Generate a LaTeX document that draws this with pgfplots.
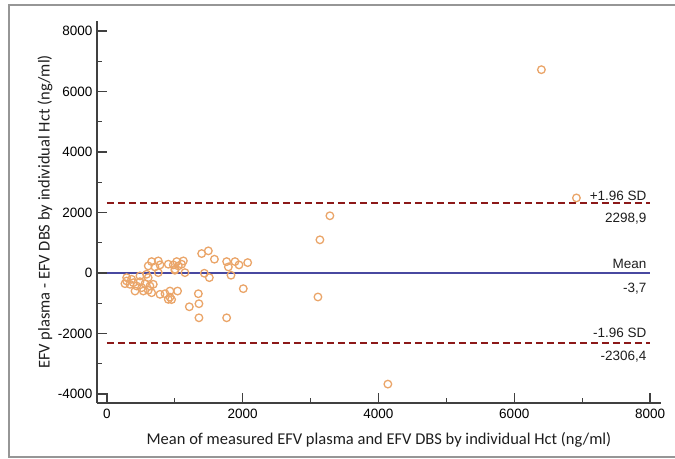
\documentclass[border=0pt]{standalone}
\usepackage{pgfplots}
\pgfplotsset{compat=1.18}
\usepackage{fontspec}
\setmainfont{Liberation Sans}
\newfontfamily\calibri{Carlito}
\definecolor{axisgray}{RGB}{64,64,64}
\definecolor{ptorange}{RGB}{234,165,105}
\definecolor{meanblue}{RGB}{72,72,160}
\definecolor{sdred}{RGB}{140,25,25}
\definecolor{framegray}{RGB}{150,150,150}
\definecolor{labeltext}{RGB}{30,30,30}
\begin{document}
\begin{tikzpicture}
\useasboundingbox (-97bp,-56bp) rectangle (578bp,403bp);
\draw[framegray, line width=1.2bp] (580bp,-54bp) -- (-88bp,-54bp) -- (-88bp,398bp) -- (580bp,398bp);
\begin{axis}[
  at={(0,0)}, anchor=south west,
  scale only axis,
  width=564bp, height=382bp,
  xmin=-147, xmax=8162,
  ymin=-4300, ymax=8330,
  axis x line=bottom, axis y line=left,
  axis line style={-, axisgray, line width=1.5bp},
  xtick={0,2000,4000,6000,8000},
  ytick={-4000,-2000,0,2000,4000,6000,8000},
  minor x tick num=1, minor y tick num=1,
  tick align=inside,
  major tick length=10bp, minor tick length=5bp,
  every tick/.style={axisgray, line width=1.2bp},
  /pgf/number format/assume math mode=true,
  /pgf/number format/set thousands separator={},
  scaled ticks=false,
  ticklabel style={font=\fontsize{13.5bp}{15bp}\selectfont, text=black},
  yticklabel style={xshift=-1bp},
  xticklabel style={yshift=-3bp},
  xlabel={Mean of measured EFV plasma and EFV DBS by individual Hct (ng/ml)},
  ylabel={EFV plasma - EFV DBS by individual Hct (ng/ml)},
  every axis x label/.style={at={(axis description cs:0.5,0)}, yshift=-37bp, anchor=center,
     font=\calibri\fontsize{16.5bp}{18bp}\selectfont, text=labeltext},
  every axis y label/.style={at={(axis description cs:0,0.5)}, xshift=-52bp, rotate=90, anchor=center,
     font=\calibri\fontsize{16.5bp}{18bp}\selectfont, text=labeltext},
  clip=false,
]
\addplot[only marks, mark=o, mark size=3.8bp, mark options={ptorange, line width=1.3bp}] coordinates {
(6400,6720) (6916,2480) (3284,1890) (3137,1095) (3108,-795) (4138,-3675)
(1395,641) (1493,730) (1583,454) (1763,375) (1788,199) (1886,375) (1945,266) (2073,342)
(1827,-76) (1434,-10) (1508,-155) (2008,-520) (1346,-687) (1355,-1018) (1213,-1118)
(1355,-1483) (1763,-1483) (1040,-598) (952,-880) (928,-800)
(1100,289) (1125,398) (1051,232) (1149,10)
(658,375) (756,398) (608,232) (707,199) (781,266) (756,10) (903,289) (977,266) (1027,375) (1002,123)
(290,-266) (265,-355) (339,-375) (388,-322) (486,-289) (560,-355) (437,-432) (511,-488)
(413,-598) (535,-598) (633,-432) (682,-375) (608,-574) (658,-654) (781,-707) (855,-687)
(928,-598) (903,-873)
(290,-155) (363,-210) (607,-155) (486,-99) (583,-43) (1001,89)
};
\addplot[meanblue, line width=2bp] coordinates {(0,-3.7) (8000,-3.7)};
\addplot[sdred, line width=2bp, dash pattern=on 7bp off 4bp] coordinates {(0,2298.9) (8000,2298.9)};
\addplot[sdred, line width=2bp, dash pattern=on 7bp off 4bp] coordinates {(0,-2306.4) (8000,-2306.4)};
\begin{scope}[every node/.style={font=\fontsize{13.5bp}{15bp}\selectfont, anchor=base east, inner sep=0pt, text=labeltext}]
\node[yshift=3bp] at (axis cs:7950,2298.9) {+1.96 SD};
\node[yshift=-19bp] at (axis cs:7950,2298.9) {2298,9};
\node[yshift=5bp] at (axis cs:7950,-3.7) {Mean};
\node[yshift=-19bp] at (axis cs:7950,-3.7) {-3,7};
\node[yshift=5bp] at (axis cs:7950,-2306.4) {-1.96 SD};
\node[yshift=-18bp] at (axis cs:7950,-2306.4) {-2306,4};
\end{scope}
\end{axis}
\end{tikzpicture}
\end{document}
